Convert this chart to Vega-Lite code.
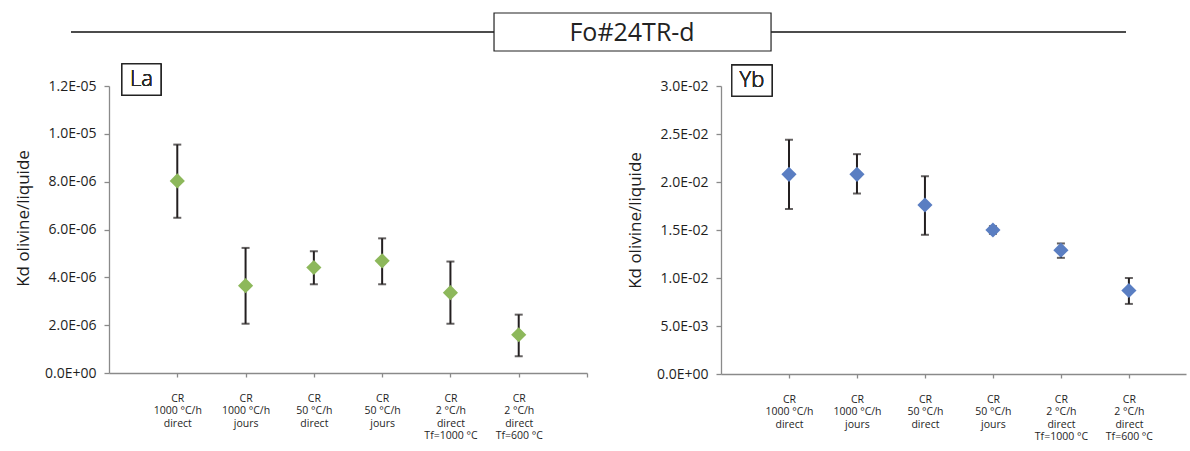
{
  "$schema": "https://vega.github.io/schema/vega-lite/v6.json",
  "background": "white",
  "padding": {"left": 14, "top": 12, "right": 0, "bottom": 0},
  "datasets": {
    "la": [
      {"cond": 1, "kd": 8.03e-6, "lo": 6.49e-6, "hi": 9.55e-6},
      {"cond": 2, "kd": 3.65e-6, "lo": 2.06e-6, "hi": 5.23e-6},
      {"cond": 3, "kd": 4.41e-6, "lo": 3.71e-6, "hi": 5.09e-6},
      {"cond": 4, "kd": 4.69e-6, "lo": 3.71e-6, "hi": 5.63e-6},
      {"cond": 5, "kd": 3.36e-6, "lo": 2.06e-6, "hi": 4.66e-6},
      {"cond": 6, "kd": 1.60e-6, "lo": 0.70e-6, "hi": 2.44e-6}
    ],
    "yb": [
      {"cond": 1, "kd": 0.0208, "lo": 0.0172, "hi": 0.0244},
      {"cond": 2, "kd": 0.0208, "lo": 0.0188, "hi": 0.0229},
      {"cond": 3, "kd": 0.0176, "lo": 0.0145, "hi": 0.0206},
      {"cond": 4, "kd": 0.0150, "lo": 0.0146, "hi": 0.0154},
      {"cond": 5, "kd": 0.0129, "lo": 0.0121, "hi": 0.0136},
      {"cond": 6, "kd": 0.0087, "lo": 0.0073, "hi": 0.0100}
    ],
    "header": [{"title": "Fo#24TR-d"}]
  },
  "spacing": 11,
  "vconcat": [
    {
      "width": 1080,
      "height": 38,
      "data": {"name": "header"},
      "layer": [
        {
          "mark": {"type": "rule", "color": "#111111", "strokeWidth": 1.5},
          "encoding": {
            "x": {"datum": -0.0352, "type": "quantitative", "scale": {"domain": [0, 1]}, "axis": null},
            "x2": {"datum": 0.9417},
            "y": {"datum": 0.5, "type": "quantitative", "scale": {"domain": [0, 1]}, "axis": null}
          }
        },
        {
          "mark": {"type": "rect", "fill": "white", "stroke": "#222222", "strokeWidth": 1.2},
          "encoding": {
            "x": {"datum": 0.3565, "type": "quantitative", "scale": {"domain": [0, 1]}, "axis": null},
            "x2": {"datum": 0.6130},
            "y": {"datum": 0, "type": "quantitative", "scale": {"domain": [0, 1]}, "axis": null},
            "y2": {"datum": 1}
          }
        },
        {
          "mark": {"type": "text", "font": "Open Sans", "fontSize": 25, "fontWeight": "normal", "color": "#222222", "align": "center", "baseline": "middle", "dy": 1},
          "encoding": {
            "text": {"field": "title"},
            "x": {"datum": 0.4843, "type": "quantitative", "scale": {"domain": [0, 1]}, "axis": null},
            "y": {"datum": 0.5, "type": "quantitative", "scale": {"domain": [0, 1]}, "axis": null}
          }
        }
      ]
    },
    {
      "spacing": 38,
      "hconcat": [
        {
          "width": 478,
          "height": 287,
          "data": {"name": "la"},
          "encoding": {
            "x": {
              "field": "cond", "type": "quantitative",
              "scale": {"domain": [0, 7], "nice": false, "zero": false},
              "axis": {
                "title": null, "values": [1, 2, 3, 4, 5, 6, 7], "grid": false,
                "tickSize": 4, "labelPadding": 16, "labelBaseline": "top",
                "labelFontSize": 10.5, "labelLineHeight": 12.6, "labelOverlap": false, "labelFlush": false, "labelBound": false,
                "labelExpr": "datum.value == 1 ? ['CR','1000 °C/h','direct'] : datum.value == 2 ? ['CR','1000 °C/h','jours'] : datum.value == 3 ? ['CR','50 °C/h','direct'] : datum.value == 4 ? ['CR','50 °C/h','jours'] : datum.value == 5 ? ['CR','2 °C/h','direct','Tf=1000 °C'] : datum.value == 6 ? ['CR','2 °C/h','direct','Tf=600 °C'] : ''"
              }
            }
          },
          "layer": [
            {
              "mark": {"type": "rect", "fill": "white", "stroke": "#222222", "strokeWidth": 1.2},
              "encoding": {
                "x": {"datum": 0.19, "type": "quantitative"},
                "x2": {"datum": 0.76},
                "y": {"datum": 1.162e-5, "type": "quantitative"},
                "y2": {"datum": 1.292e-5}
              }
            },
            {
              "mark": {"type": "text", "text": "La", "fontSize": 22, "fontWeight": 300, "color": "#2A2A2A", "align": "center", "baseline": "middle"},
              "encoding": {
                "x": {"datum": 0.475, "type": "quantitative"},
                "y": {"datum": 1.228e-5, "type": "quantitative"}
              }
            },
            {
              "mark": {"type": "rule", "color": "#231F20", "strokeWidth": 2},
              "encoding": {
                "y": {"field": "lo", "type": "quantitative"},
                "y2": {"field": "hi"}
              }
            },
            {
              "mark": {"type": "tick", "color": "#231F20", "thickness": 2, "size": 8, "orient": "horizontal"},
              "encoding": {"y": {"field": "lo", "type": "quantitative"}}
            },
            {
              "mark": {"type": "tick", "color": "#231F20", "thickness": 2, "size": 8, "orient": "horizontal"},
              "encoding": {"y": {"field": "hi", "type": "quantitative"}}
            },
            {
              "mark": {"type": "point", "shape": "diamond", "filled": true, "size": 230, "color": "#8DB85B", "opacity": 1},
              "encoding": {
                "y": {
                  "field": "kd", "type": "quantitative",
                  "scale": {"domain": [0, 1.2e-5], "nice": false, "zero": true},
                  "axis": {
                    "title": "Kd olivine/liquide", "grid": false,
                    "values": [0, 2e-6, 4e-6, 6e-6, 8e-6, 1e-5, 1.2e-5],
                    "tickSize": 5, "labelPadding": 8, "titlePadding": 12, "labelFontSize": 14, "titleFontSize": 17, "titleY": 132,
                    "labelExpr": "split(format(datum.value,'.1e'),'e')[0] + 'E' + substring(split(format(datum.value,'.1e'),'e')[1],0,1) + (length(split(format(datum.value,'.1e'),'e')[1]) < 3 ? '0' : '') + substring(split(format(datum.value,'.1e'),'e')[1],1)"
                  }
                }
              }
            }
          ]
        },
        {
          "width": 465,
          "height": 288,
          "data": {"name": "yb"},
          "encoding": {
            "x": {
              "field": "cond", "type": "quantitative",
              "scale": {"domain": [0, 6.84], "nice": false, "zero": false},
              "axis": {
                "title": null, "values": [1, 2, 3, 4, 5, 6], "grid": false,
                "tickSize": 4, "labelPadding": 16, "labelBaseline": "top",
                "labelFontSize": 10.5, "labelLineHeight": 12.6, "labelOverlap": false, "labelFlush": false, "labelBound": false,
                "labelExpr": "datum.value == 1 ? ['CR','1000 °C/h','direct'] : datum.value == 2 ? ['CR','1000 °C/h','jours'] : datum.value == 3 ? ['CR','50 °C/h','direct'] : datum.value == 4 ? ['CR','50 °C/h','jours'] : datum.value == 5 ? ['CR','2 °C/h','direct','Tf=1000 °C'] : datum.value == 6 ? ['CR','2 °C/h','direct','Tf=600 °C'] : ''"
              }
            }
          },
          "layer": [
            {
              "mark": {"type": "rect", "fill": "white", "stroke": "#222222", "strokeWidth": 1.2},
              "encoding": {
                "x": {"datum": 0.16, "type": "quantitative"},
                "x2": {"datum": 0.75},
                "y": {"datum": 0.02896, "type": "quantitative"},
                "y2": {"datum": 0.03218}
              }
            },
            {
              "mark": {"type": "text", "text": "Yb", "fontSize": 22, "fontWeight": 300, "color": "#2A2A2A", "align": "center", "baseline": "middle"},
              "encoding": {
                "x": {"datum": 0.455, "type": "quantitative"},
                "y": {"datum": 0.0306, "type": "quantitative"}
              }
            },
            {
              "mark": {"type": "rule", "color": "#231F20", "strokeWidth": 2},
              "encoding": {
                "y": {"field": "lo", "type": "quantitative"},
                "y2": {"field": "hi"}
              }
            },
            {
              "mark": {"type": "tick", "color": "#231F20", "thickness": 2, "size": 8, "orient": "horizontal"},
              "encoding": {"y": {"field": "lo", "type": "quantitative"}}
            },
            {
              "mark": {"type": "tick", "color": "#231F20", "thickness": 2, "size": 8, "orient": "horizontal"},
              "encoding": {"y": {"field": "hi", "type": "quantitative"}}
            },
            {
              "mark": {"type": "point", "shape": "diamond", "filled": true, "size": 230, "color": "#5A7EC2", "opacity": 1},
              "encoding": {
                "y": {
                  "field": "kd", "type": "quantitative",
                  "scale": {"domain": [0, 0.03], "nice": false, "zero": true},
                  "axis": {
                    "title": "Kd olivine/liquide", "grid": false,
                    "values": [0, 0.005, 0.01, 0.015, 0.02, 0.025, 0.03],
                    "tickSize": 5, "labelPadding": 8, "titlePadding": 12, "labelFontSize": 14, "titleFontSize": 17, "titleY": 134,
                    "labelExpr": "split(format(datum.value,'.1e'),'e')[0] + 'E' + substring(split(format(datum.value,'.1e'),'e')[1],0,1) + (length(split(format(datum.value,'.1e'),'e')[1]) < 3 ? '0' : '') + substring(split(format(datum.value,'.1e'),'e')[1],1)"
                  }
                }
              }
            }
          ]
        }
      ]
    }
  ],
  "config": {
    "font": "Open Sans",
    "view": {"stroke": null},
    "text": {"font": "Open Sans"},
    "axis": {
      "domainColor": "#8A8A8A",
      "domainWidth": 1.3,
      "tickColor": "#8A8A8A",
      "tickWidth": 1.3,
      "labelColor": "#1E1E1E",
      "titleColor": "#1E1E1E",
      "labelFont": "Open Sans",
      "titleFont": "Open Sans",
      "titleFontWeight": "normal"
    }
  }
}
